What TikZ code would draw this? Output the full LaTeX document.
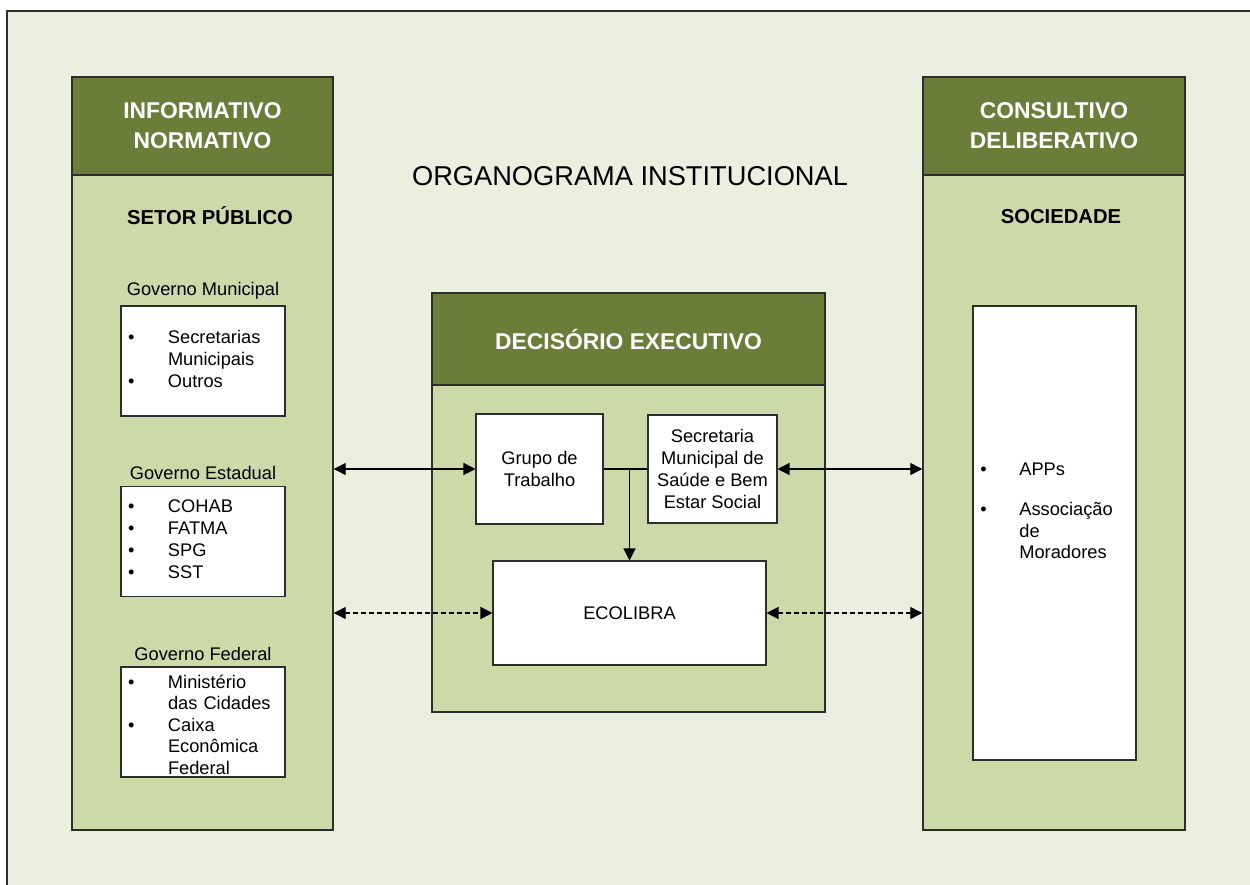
\documentclass[tikz,border=0pt]{standalone}
\usepackage{fontspec}
\setmainfont{Liberation Sans}
\usetikzlibrary{positioning,arrows.meta}

\definecolor{bgpale}{RGB}{235,239,224}
\definecolor{colbody}{RGB}{204,218,170}
\definecolor{colhead}{RGB}{106,126,58}
\definecolor{edgegray}{RGB}{45,45,45}

\begin{document}
\begin{tikzpicture}[
  x=0.2mm, y=-0.2mm,
  panel/.style={draw=edgegray,line width=0.8pt,fill=colbody,inner sep=0pt},
  header/.style={draw=edgegray,line width=0.8pt,fill=colhead,inner sep=0pt,text=white,align=center,
    font=\fontsize{13}{17}\selectfont\bfseries},
  section/.style={font=\fontsize{11.5}{14}\selectfont\bfseries},
  title/.style={font=\fontsize{15.5}{18}\selectfont},
  whitebox/.style={draw=edgegray,line width=0.6pt,fill=white,inner sep=0pt,align=center,
    font=\fontsize{10.4}{12.5}\selectfont},
  listbox/.style={whitebox,align=left,inner xsep=1.4mm,text width=30mm,minimum width=32.8mm,minimum height=22mm},
  caption/.style={font=\fontsize{10.4}{12.5}\selectfont},
  link/.style={{Triangle[length=2.4mm,width=2.4mm]}-{Triangle[length=2.4mm,width=2.4mm]},line width=0.7pt},
  weaklink/.style={link,dash pattern=on 1mm off 0.6mm},
  flow/.style={-{Triangle[length=2.4mm,width=2.4mm]},line width=0.7pt},
]
  \useasboundingbox (0,0) rectangle (1250,885);
  \fill[bgpale] (7,11) rectangle (1250,885);
  \draw[edgegray,line width=0.8pt] (7,890) |- (1260,11);

  % Left column: public sector.
  \node[panel,minimum width=52.2mm,minimum height=150.6mm] (leftcol) at (202.5,453.5) {};
  \node[header,minimum width=52.2mm,minimum height=19.6mm] (lefthead) at (202.5,126) {INFORMATIVO\\NORMATIVO};
  \node[section] (setor) at (210,216) {SETOR PÚBLICO};

  \node[listbox] (munbox) at (203,361)
    {\begin{tabular}{@{}p{8mm}@{}l@{}}\textbullet & Secretarias\\ & Municipais\\ \textbullet & Outros\end{tabular}};
  \node[listbox] (estbox) at (203,541.5)
    {\begin{tabular}{@{}p{8mm}@{}l@{}}\textbullet & COHAB\\ \textbullet & FATMA\\ \textbullet & SPG\\ \textbullet & SST\end{tabular}};
  \node[listbox,font=\fontsize{10.4}{12.2}\selectfont] (fedbox) at (203,722)
    {\begin{tabular}{@{}p{8mm}@{}l@{}}\noalign{\vspace{1mm}}\textbullet & Ministério\\ & das Cidades\\ \textbullet & Caixa\\ & Econômica\\ & Federal\\\noalign{\vspace{-1mm}}\end{tabular}};
  \node[caption,above=0pt of munbox] (muncap) {Governo Municipal};
  \node[caption,above=0pt of estbox] (estcap) {Governo Estadual};
  \node[caption,above=0pt of fedbox] (fedcap) {Governo Federal};

  % Right column: society.
  \node[panel,minimum width=52.4mm,minimum height=150.6mm] (rightcol) at (1054,453.5) {};
  \node[header,minimum width=52.4mm,minimum height=19.6mm] (righthead) at (1054,126) {CONSULTIVO\\DELIBERATIVO};
  \node[section] (sociedade) at (1061,217) {SOCIEDADE};
  \node[whitebox,minimum width=32.6mm,minimum height=90.8mm] (socbox) at (1054.5,533) {};
  \node[caption,anchor=base west,inner sep=0pt,inner xsep=1.4mm] (soclist) at (973,475.5)
    {\begin{tabular}[t]{@{}p{7.8mm}@{}l@{}}\textbullet & APPs\\[10pt] \textbullet & Associação\\ & de\\ & Moradores\end{tabular}};

  \node[title] (title) at (630,176) {ORGANOGRAMA INSTITUCIONAL};

  % Centre: executive decision.
  \node[panel,minimum width=78.6mm,minimum height=83.8mm] (centrecol) at (628.5,502.5) {};
  \node[header,minimum width=78.6mm,minimum height=18.4mm] (centrehead) at (628.5,339) {DECISÓRIO EXECUTIVO};
  \node[whitebox,minimum width=25.4mm,minimum height=22mm] (grupo) at (539.5,469) {Grupo de\\Trabalho};
  \node[whitebox,minimum width=25.8mm,minimum height=21.6mm] (secretaria) at (712.5,469)
    {Secretaria\\Municipal de\\Saúde e Bem\\Estar Social};
  \node[whitebox,minimum width=54.6mm,minimum height=20.8mm] (ecolibra) at (629.5,613) {ECOLIBRA};

  \draw[link] (leftcol.east |- grupo.west) -- (grupo.west);
  \draw[link] (secretaria.east) -- (rightcol.west |- secretaria.east);
  \draw[line width=0.7pt] (grupo.east) -- (secretaria.west);
  \draw[flow] (grupo.east -| ecolibra.north) -- (ecolibra.north);
  \draw[weaklink] (leftcol.east |- ecolibra.west) -- (ecolibra.west);
  \draw[weaklink] (ecolibra.east) -- (rightcol.west |- ecolibra.east);

\end{tikzpicture}
\end{document}
